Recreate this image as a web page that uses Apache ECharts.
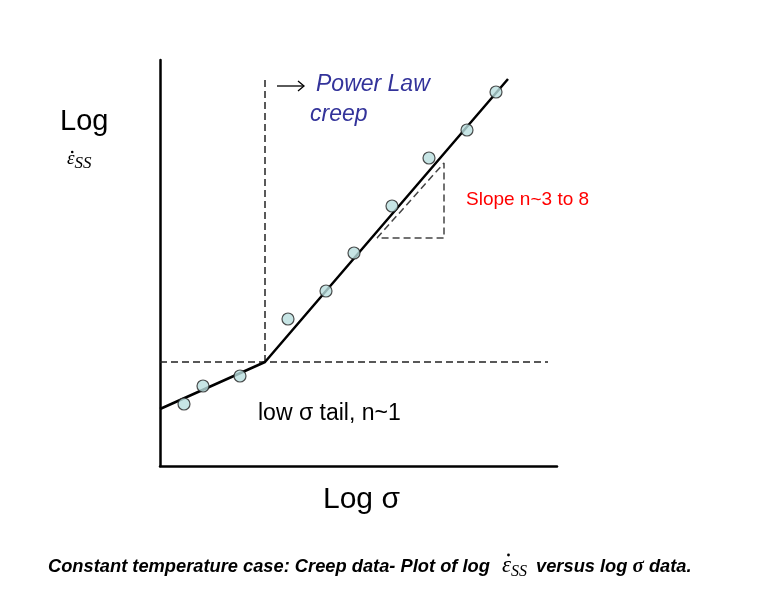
<!DOCTYPE html>
<html>
<head>
<meta charset="utf-8">
<script src="https://cdn.jsdelivr.net/npm/echarts@6/dist/echarts.min.js"></script>
<style>
html,body{margin:0;padding:0;background:#fff;}
#chart{width:760px;height:597px;}
</style>
</head>
<body>
<div id="chart"></div>
<script>
// schematic units: log sigma (x) and log strain rate (y), arbitrary
var dataPoints = [[24,62],[43,80],[80,90],[128,147],[166,175],[194,213],[232,260],[269,308],[307,336],[336,374]];
var fitLine = [[0,57],[105,104],[348,387]];
var kneeHoriz = [[0,104],[388,104]];
var kneeVert = [[105,104],[105,386]];
var slopeTri = [[217,228],[284,303],[284,228],[217,228]];

var chart = echarts.init(document.getElementById('chart'));

// measure text so the dotted epsilon pieces line up
var mctx = document.createElement('canvas').getContext('2d');
function tw(font, s){ mctx.font = font; return mctx.measureText(s).width; }

var dashStyle = {color:'#222', width:1.5, type:[7,4]};

var capA = 'italic bold 18.3px "Liberation Sans", Arial';
var capE = 'italic 23px "Liberation Serif", serif';
var capS = 'italic 16px "Liberation Serif", serif';
var capText1 = 'Constant temperature case: Creep data- Plot of log ';
var cx1 = 48 + tw(capA, capText1) + 7;
var cwE = tw(capE, 'ε');
var cx2 = cx1 + cwE;
var cx3 = cx2 + tw(capS, 'SS') + 9;

var yE = 'italic 19px "Liberation Serif", serif';

var option = {
    animation:false,
    backgroundColor:'#fff',
    grid:{left:160, top:60, width:397, height:406},
    xAxis:{
        type:'value', min:0, max:397,
        axisLine:{show:true, lineStyle:{color:'#000', width:2.5}},
        axisTick:{show:false}, axisLabel:{show:false}, splitLine:{show:false}
    },
    yAxis:{
        type:'value', min:0, max:406,
        axisLine:{show:true, onZero:false, lineStyle:{color:'#000', width:2.5}},
        axisTick:{show:false}, axisLabel:{show:false}, splitLine:{show:false}
    },
    series:[
        {type:'line', data:kneeHoriz, symbol:'none', lineStyle:dashStyle, z:1},
        {type:'line', data:kneeVert, symbol:'none', lineStyle:dashStyle, z:1},
        {type:'line', data:slopeTri, symbol:'none', lineStyle:{color:'#444', width:1.5, type:[7,4]}, z:1},
        {type:'line', data:fitLine, symbol:'none', lineStyle:{color:'#000', width:2.5}, z:2},
        {type:'scatter', data:dataPoints, symbol:'circle', symbolSize:12,
         itemStyle:{color:'#b9dede', borderColor:'#222', borderWidth:1.2}, z:3}
    ],
    graphic:[
        {type:'text', x:60, y:122, style:{text:'Log', font:'29px "Liberation Sans", Arial', fill:'#000', verticalAlign:'middle'}},
        // y label: epsilon-dot sub SS
        {type:'text', x:67, y:159, style:{text:'ε', font:yE, fill:'#000', verticalAlign:'middle'}},
        {type:'circle', shape:{cx:67 + tw(yE,'ε')/2 + 1.5, cy:152, r:1.3}, style:{fill:'#000'}},
        {type:'text', x:67 + tw(yE,'ε'), y:164, style:{text:'SS', font:'italic 17px "Liberation Serif", serif', fill:'#000', verticalAlign:'middle'}},
        // arrow
        {type:'line', shape:{x1:277, y1:86, x2:304, y2:86}, style:{stroke:'#000', lineWidth:1.3}},
        {type:'polyline', shape:{points:[[298,81],[304,86],[298,91]]}, style:{stroke:'#000', lineWidth:1.3, fill:null}},
        {type:'text', x:316, y:85, style:{text:'Power Law', font:'italic 23px "Liberation Sans", Arial', fill:'#33339a', verticalAlign:'middle'}},
        {type:'text', x:310, y:115, style:{text:'creep', font:'italic 23px "Liberation Sans", Arial', fill:'#33339a', verticalAlign:'middle'}},
        {type:'text', x:466, y:200, style:{text:'Slope n~3 to 8', font:'19px "Liberation Sans", Arial', fill:'#ff0000', verticalAlign:'middle'}},
        {type:'text', x:258, y:414, style:{text:'low σ tail, n~1', font:'23px "Liberation Sans", Arial', fill:'#000', verticalAlign:'middle'}},
        {type:'text', x:323, y:500, style:{text:'Log σ', font:'30px "Liberation Sans", Arial', fill:'#000', verticalAlign:'middle'}},
        // caption
        {type:'text', x:48, y:567, style:{text:capText1, font:capA, fill:'#000', verticalAlign:'middle'}},
        {type:'text', x:cx1, y:566, style:{text:'ε', font:capE, fill:'#000', verticalAlign:'middle'}},
        {type:'circle', shape:{cx:cx1 + cwE/2 + 2, cy:555, r:1.4}, style:{fill:'#000'}},
        {type:'text', x:cx2, y:572, style:{text:'SS', font:capS, fill:'#000', verticalAlign:'middle'}},
        {type:'text', x:cx3, y:567, style:{
            text:'{a|versus log }{g|σ}{a| data.}',
            verticalAlign:'middle',
            rich:{
                a:{font:capA, fill:'#000'},
                g:{font:'italic bold 21px "Liberation Serif", serif', fill:'#000'}
            }
        }}
    ]
};
chart.setOption(option);
</script>
</body>
</html>
